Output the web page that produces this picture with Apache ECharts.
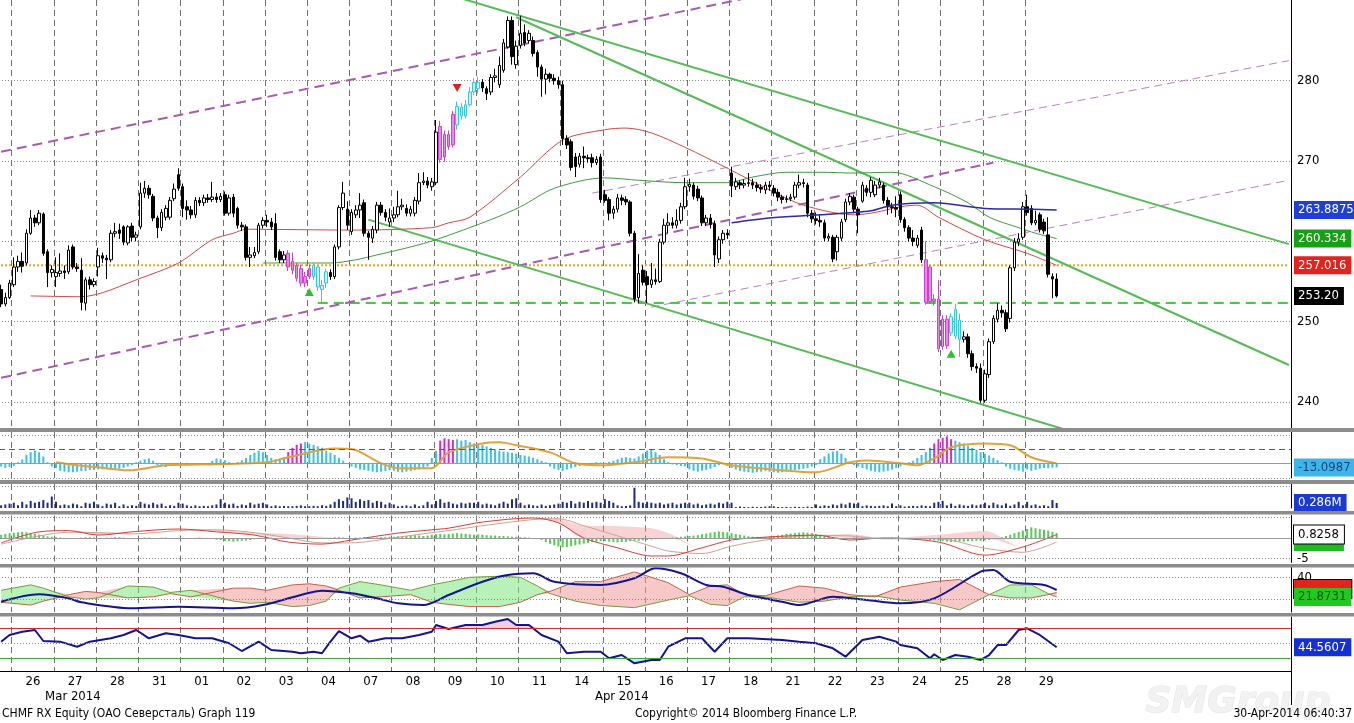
<!DOCTYPE html>
<html><head><meta charset="utf-8">
<script src="https://cdn.jsdelivr.net/npm/echarts@6/dist/echarts.min.js"></script>
<style>html,body{margin:0;padding:0;background:#fff;overflow:hidden}#c{width:1354px;height:723px}</style>
</head><body><div id="c"></div>
<script>
const FONT = "'DejaVu Sans Condensed','DejaVu Sans',sans-serif";

// ---- categories ----
const dayLabels = ['25','26','27','28','31','01','02','03','04','07','08','09','10','11','14','15','16','17','18','21','22','23','24','25','28','29'];
const N_CAT = 306;

// ---- candles [open, close, low, high] per trading day ----
const mar25 = [[254.0,252.2,251.8,254.6],[252.2,253.0,251.9,253.6],[253.0,254.8,252.8,255.2]];
const mar26 = [[254.6,256.8,254.3,258.0],[256.8,257.5,256.2,258.2],[257.5,256.9,256.1,258.6],[257.3,261.0,257.0,261.5],[261.0,262.9,260.8,263.9],[262.9,262.3,261.8,263.3],[262.3,263.5,262.0,263.9],[263.4,258.5,258.2,263.6],[258.7,256.1,254.3,259.0],[256.1,256.5,255.5,257.0]];
const mar27 = [[255.6,256.1,254.3,258.0],[256.0,256.3,255.6,258.5],[256.3,256.1,255.3,257.0],[256.2,258.9,255.9,259.5],[259.3,256.8,256.5,259.6],[256.8,256.6,256.2,257.3],[256.4,252.4,251.4,257.9],[252.3,255.2,251.4,255.5],[255.2,254.6,254.0,255.6],[254.6,255.0,254.3,255.4]];
const mar28 = [[256.8,258.2,255.6,259.2],[258.2,257.9,257.3,258.6],[257.9,257.7,255.3,258.3],[257.7,261.0,257.4,261.4],[261.0,261.2,260.5,262.3],[261.4,261.0,260.3,262.2],[261.8,259.9,259.5,262.0],[259.8,261.8,259.5,262.0],[261.9,260.5,260.0,262.3],[260.5,260.8,260.0,261.2]];
const mar31 = [[261.8,266.0,261.5,267.3],[266.0,266.6,265.4,267.5],[266.6,265.8,265.3,267.0],[265.6,262.9,262.5,265.9],[262.9,261.7,260.4,263.2],[261.7,263.6,261.3,264.0],[263.0,264.1,262.6,264.5],[263.0,265.1,262.7,265.5],[265.3,266.5,265.0,267.2],[268.3,266.6,266.3,269.1]];
const apr01 = [[266.8,264.1,263.0,267.2],[264.3,263.9,262.7,265.1],[263.9,263.3,262.8,264.4],[263.3,265.1,262.9,265.5],[265.1,264.8,264.4,265.5],[264.8,265.4,264.4,265.8],[265.4,265.2,264.8,265.9],[265.2,265.5,264.9,267.4],[265.5,265.2,264.8,266.0],[265.2,265.6,264.9,266.0]];
const apr02 = [[265.8,263.5,263.2,266.2],[263.5,265.4,263.2,265.8],[265.5,263.5,263.0,265.9],[264.1,262.0,261.6,264.3],[262.0,261.8,261.3,262.4],[261.8,258.0,257.6,262.1],[258.0,258.3,256.8,259.3],[258.2,258.6,257.9,259.3],[258.7,262.0,258.4,262.3],[262.0,262.6,261.6,263.0]];
const apr03 = [[262.6,262.4,261.8,263.3],[262.4,261.8,261.4,262.9],[262.2,258.0,257.6,263.5],[258.7,257.7,257.3,259.0],[257.7,258.3,257.3,258.8],[258.5,256.8,256.3,258.9],[257.5,256.4,255.9,258.6],[257.0,255.4,255.0,257.3],[256.6,254.8,254.4,257.1],[254.8,255.6,254.3,256.2]];
const apr04 = [[255.6,256.6,255.3,257.1],[257.0,255.6,255.2,257.3],[256.8,254.3,253.8,257.0],[254.5,254.0,252.4,255.2],[254.8,256.2,254.2,256.6],[256.1,255.6,255.2,256.5],[255.6,259.3,255.3,259.6],[259.3,264.2,259.0,264.5],[264.2,266.0,263.9,267.4],[264.0,262.0,261.4,265.0]];
const apr07 = [[261.2,263.6,260.8,264.0],[263.3,263.9,262.9,264.5],[263.9,264.5,262.9,266.0],[264.8,261.0,260.6,265.2],[261.0,260.5,257.7,261.3],[260.4,261.5,259.8,261.9],[261.4,264.5,261.0,264.9],[264.5,263.6,263.2,264.9],[263.6,263.0,262.5,264.0],[262.4,262.9,261.8,264.1]];
const apr08 = [[262.9,263.3,262.4,264.3],[263.3,264.3,263.0,266.3],[264.3,264.5,263.9,265.3],[264.1,263.5,263.1,264.6],[263.5,264.0,263.1,264.4],[263.5,265.1,263.1,265.5],[265.0,267.3,264.6,268.5],[267.3,267.5,267.0,268.6],[267.5,267.0,266.6,268.0],[266.8,267.4,266.3,267.9]];
const apr09 = [[267.3,273.6,267.0,275.1],[274.3,270.2,269.8,275.0],[270.5,273.3,269.9,273.8],[273.3,271.8,271.4,273.8],[272.0,275.8,271.7,276.2],[274.5,276.8,273.9,277.4],[276.7,275.6,275.2,277.2],[275.6,277.0,275.3,277.6],[277.0,278.6,276.8,279.2],[278.6,279.8,278.2,280.3]];
const apr10 = [[279.8,279.0,278.4,280.5],[279.8,279.1,278.6,280.2],[279.0,278.4,277.6,279.3],[278.6,280.4,278.2,280.8],[280.4,280.6,279.8,281.5],[279.5,281.9,279.1,283.0],[281.3,284.7,281.0,285.2],[284.2,287.5,284.0,288.0],[287.5,283.0,282.0,288.0],[282.0,284.3,281.5,285.0]];
const apr11 = [[284.4,285.9,284.0,288.1],[286.0,284.7,284.3,287.0],[285.0,285.9,284.6,286.3],[285.0,283.4,283.0,285.5],[283.5,281.7,280.5,283.8],[281.7,280.2,278.0,282.0],[280.2,280.8,278.3,281.5],[280.8,280.3,279.8,281.0],[280.3,280.0,279.5,280.8],[280.0,279.5,279.0,280.5]];
const apr14 = [[279.5,272.8,272.0,280.0],[272.8,272.0,271.5,273.2],[272.4,269.2,268.8,272.7],[270.5,269.3,268.0,271.0],[269.6,270.6,269.2,271.0],[270.6,270.4,269.1,271.8],[270.4,270.3,269.8,270.8],[270.4,269.8,269.2,270.9],[269.8,270.2,269.5,270.6],[270.5,265.2,264.8,270.9]];
const apr15 = [[265.8,265.1,264.8,266.4],[265.2,263.5,262.6,265.5],[263.5,264.0,262.8,264.4],[264.0,265.4,263.6,265.9],[265.4,265.1,264.5,265.8],[265.2,264.9,264.5,265.6],[264.9,261.0,260.6,265.1],[261.0,252.8,252.4,261.3],[253.0,256.0,252.3,258.4],[256.4,254.9,254.5,257.0]];
const apr16 = [[255.6,254.6,252.3,256.3],[254.6,255.2,254.2,257.3],[255.2,255.0,254.6,256.6],[255.0,259.9,254.8,260.3],[259.9,262.0,259.6,262.8],[262.0,262.3,261.0,263.5],[262.3,262.0,261.6,263.0],[262.0,262.6,261.6,264.0],[262.6,264.3,262.2,264.8],[264.3,266.8,264.0,267.9]];
const apr17 = [[266.8,267.1,266.2,267.8],[267.0,265.6,265.2,267.3],[266.5,265.4,265.0,266.9],[265.4,262.3,261.9,265.7],[262.3,262.9,261.9,263.3],[262.9,262.1,261.6,263.4],[262.2,258.3,256.8,262.6],[257.8,260.2,257.3,260.6],[260.2,261.0,259.7,261.4],[261.0,260.8,260.3,261.5]];
const apr18 = [[268.5,266.9,265.5,269.3],[266.8,267.4,266.4,267.9],[267.3,267.0,266.5,267.6],[267.0,267.2,266.6,267.7],[267.2,267.3,266.8,268.5],[267.3,267.0,266.5,267.8],[267.0,266.7,266.2,267.4],[266.7,266.5,266.0,267.1],[266.4,267.0,265.9,267.4],[267.0,266.8,266.3,267.5]];
const apr21 = [[266.6,266.0,265.6,267.0],[266.1,265.5,265.0,266.5],[265.5,265.2,264.7,265.8],[265.2,265.3,264.8,265.7],[265.3,265.5,265.0,265.9],[265.5,267.0,265.2,267.4],[267.0,267.3,266.6,268.3],[267.3,267.2,266.7,267.8],[267.0,263.5,263.0,267.3],[263.5,262.8,262.3,263.9]];
const apr22 = [[262.8,262.6,262.1,263.6],[262.6,262.4,261.8,263.3],[262.3,260.4,260.0,262.7],[260.4,260.6,260.0,261.0],[260.5,257.8,257.4,260.8],[258.7,260.5,257.6,260.8],[260.4,262.4,260.0,262.8],[262.7,264.9,262.4,265.3],[264.9,265.6,264.5,266.0],[265.5,264.0,263.5,265.8]];
const apr23 = [[264.0,263.3,261.0,264.3],[265.0,267.0,264.8,267.4],[266.6,266.1,265.6,267.0],[266.1,267.6,265.5,268.0],[265.8,267.0,265.5,267.5],[267.0,267.4,266.6,267.9],[267.0,265.1,264.7,267.3],[265.1,264.3,263.3,265.5],[264.3,264.2,263.5,264.8],[264.2,264.0,263.0,265.6]];
const apr24 = [[265.8,262.7,262.3,266.2],[262.7,261.7,261.2,263.0],[261.7,260.4,260.0,262.0],[260.4,260.0,259.4,261.4],[259.5,260.4,259.2,260.8],[261.4,257.7,257.3,261.8],[257.7,252.4,252.1,260.0],[256.8,252.5,252.2,257.0],[252.5,252.8,252.0,253.4],[252.8,246.6,246.2,255.2]];
const apr25 = [[246.9,250.3,246.5,250.8],[250.3,247.0,246.6,250.8],[250.6,248.6,248.2,251.0],[248.2,251.5,247.8,252.2],[250.2,247.8,245.6,251.0],[247.8,248.1,247.4,248.8],[248.1,246.0,245.5,248.5],[246.0,244.4,243.9,246.4],[244.4,244.2,243.6,244.8],[244.2,240.2,239.9,244.8]];
const apr28 = [[240.2,243.5,239.9,244.0],[243.4,247.5,243.0,247.9],[247.5,250.4,247.2,250.8],[250.3,251.4,249.9,252.3],[251.4,251.1,250.5,252.0],[251.1,249.1,248.7,251.5],[250.4,256.7,249.9,257.0],[256.7,259.9,256.3,260.4],[259.9,260.3,259.4,261.0],[260.5,264.3,260.2,264.9]];
const apr29 = [[264.3,263.6,263.2,265.8],[264.1,262.3,262.0,264.5],[262.3,262.6,262.0,263.8],[263.3,261.5,261.1,263.6],[262.4,261.3,260.9,262.8],[260.8,255.9,255.5,263.0],[255.6,255.3,252.9,256.0],[255.3,253.2,253.0,256.0]];
const tradingDays = [mar25,mar26,mar27,mar28,mar31,apr01,apr02,apr03,apr04,apr07,apr08,apr09,apr10,apr11,apr14,apr15,apr16,apr17,apr18,apr21,apr22,apr23,apr24,apr25,apr28,apr29];

// highlighted (setup) bars, index ranges
const magentaRanges = [[68,73],[104,107],[219,224]];
const cyanRanges = [[74,77],[108,113],[225,227]];
const buyMarks = [[73,253.7],[225,246.0]];
const sellMarks = [[108,279.1]];

// moving averages [barIndex, price]
const maRed = [[7,253.2],[19,253.1],[24,253.6],[32,255.2],[42,257.3],[50,260.2],[55,261.0],[58,261.5],[83,261.4],[102,261.7],[106,262.3],[111,263.0],[123,268.0],[133,272.6],[143,273.9],[148,274.1],[154,273.5],[162,271.7],[172,269.1],[182,266.4],[190,264.5],[202,263.3],[207,263.6],[213,264.3],[217,264.5],[222,263.0],[233,260.2],[243,258.5],[250,257.0]];
const maGreen = [[62,257.3],[78,257.3],[84,257.7],[89,258.3],[97,259.3],[103,260.2],[116,262.7],[123,264.3],[131,266.6],[143,267.9],[151,267.6],[162,267.3],[172,267.3],[178,268.0],[186,268.6],[194,268.6],[202,268.5],[211,268.6],[221,266.8],[229,264.8],[234,263.0],[241,261.7],[245,261.0],[250,260.334]];
const maBlue = [[173,262.3],[182,262.9],[194,263.3],[206,263.8],[211,264.5],[221,264.8],[233,264.1],[244,264.0],[250,263.8875]];

// trend lines [barIndex, price] end points
const chanUpperThick = [[0,271.15],[185,291.2]];
const chanLowerThick = [[0,243.0],[235,269.8]];
const chanUpperThin = [[140,266.0],[305,282.5]];
const chanLowerThin = [[154,251.8],[305,267.6]];
const trendG1 = [[108,290.4],[305,259.65]];
const trendG2 = [[122,287.9],[305,244.6]];
const trendG3 = [[87,262.7],[253,236.4]];
const supportLine = [[75,252.32],[305,252.32]];
const levelLine = [[0,257.016],[305,257.016]];

const priceTicks = [240,250,270,280];
const priceGrid = [240,250,260,270,280];
const lastTags = [263.8875,260.334,257.016,253.20];

// oscillator panel
const osc = [-10,-15,-12,-8,5,15,30,40,45,40,25,5,-10,-15,-25,-28,-30,-30,-28,-26,-25,-22,-22,-20,-20,-18,-20,-22,-18,-15,-10,-5,5,10,15,18,10,-5,-8,-12,-6,-4,-2,2,3,-3,-5,-3,0,2,10,18,15,12,5,-3,5,12,20,30,38,45,40,30,20,15,18,22,40,55,65,70,75,70,65,60,55,45,38,30,20,10,0,-10,-15,-20,-22,-25,-28,-30,-28,-25,-22,-25,-28,-30,-28,-25,-22,-20,-15,-10,20,45,80,88,85,82,85,80,82,75,70,68,65,60,55,50,45,42,40,38,35,30,28,25,20,15,10,5,-10,-18,-22,-25,-20,-16,-12,-8,-4,0,3,5,4,3,6,10,15,20,22,20,18,25,35,46,50,40,30,15,5,-3,-5,-8,-10,-20,-25,-28,-25,-22,-18,-12,-5,0,-8,-15,-20,-25,-28,-30,-32,-30,-28,-25,-28,-30,-32,-30,-28,-25,-22,-20,-18,-15,-10,-5,15,25,35,42,45,35,20,5,-5,-10,-15,-20,-25,-28,-30,-28,-25,-20,-15,-10,-5,5,10,20,30,40,55,70,85,90,95,85,80,75,70,62,55,48,40,35,28,20,12,5,-10,-18,-22,-25,-28,-20,-25,-22,-18,-15,-16,-14,-13.0987];
const oscMagenta = [[68,71],[104,107],[221,225]];
const oscSignal = [[13,4.5],[18,-6],[23,-13],[30,-23],[39,-6],[51,-2],[63,4.5],[68,22],[79,53],[83,51],[90,1],[94,-16],[102,-16],[106,39],[114,70],[118,74],[122,64],[130,39],[136,1],[142,-6],[150,4.5],[158,22],[166,18],[173,-6],[185,-23],[193,-30],[201,4.5],[205,11],[213,1],[217,-6],[221,18],[225,57],[233,70],[239,64],[244,22],[250,1]];

// volume (millions)
const volume = [0.15,0.2,0.25,
0.3,0.15,0.35,0.2,0.4,0.3,0.35,0.45,0.3,0.65,
0.35,0.15,0.2,0.15,0.25,0.2,0.1,0.3,0.25,0.35,
0.2,0.1,0.25,0.2,0.3,0.1,0.2,0.1,0.15,0.12,
0.35,0.25,0.2,0.3,0.2,0.25,0.1,0.15,0.12,0.3,
0.25,0.15,0.1,0.15,0.1,0.12,0.1,0.15,0.2,0.5,
0.3,0.2,0.25,0.12,0.2,0.15,0.3,0.2,0.25,0.3,
0.2,0.1,0.15,0.1,0.12,0.1,0.1,0.12,0.15,0.1,
0.1,0.12,0.1,0.15,0.12,0.2,0.35,0.5,0.4,0.6,
0.55,0.35,0.5,0.4,0.45,0.3,0.4,0.35,0.2,0.3,
0.2,0.1,0.12,0.15,0.1,0.2,0.1,0.15,0.35,0.2,
0.4,0.5,0.3,0.35,0.25,0.2,0.3,0.25,0.3,0.3,
0.35,0.2,0.25,0.2,0.15,0.25,0.35,0.25,0.5,0.55,
0.3,0.15,0.2,0.15,0.12,0.2,0.12,0.15,0.2,0.25,
0.35,0.3,0.4,0.25,0.35,0.3,0.4,0.3,0.35,0.3,
0.5,0.4,0.3,0.15,0.1,0.12,0.15,1.15,0.35,0.3,
0.35,0.3,0.25,0.3,0.2,0.25,0.3,0.2,0.25,0.3,
0.3,0.2,0.25,0.15,0.2,0.25,0.2,0.3,0.25,0.35,
0.3,0.05,0.08,0.06,0.05,0.07,0.05,0.06,0.08,0.1,
0.1,0.06,0.05,0.06,0.05,0.07,0.06,0.05,0.08,0.06,
0.2,0.1,0.15,0.12,0.2,0.15,0.25,0.2,0.3,0.25,
0.3,0.1,0.15,0.12,0.1,0.12,0.15,0.1,0.25,0.1,
0.15,0.08,0.1,0.12,0.1,0.15,0.12,0.1,0.3,0.35,
0.4,0.15,0.25,0.12,0.2,0.15,0.12,0.2,0.15,0.2,
0.3,0.15,0.3,0.2,0.15,0.25,0.12,0.2,0.35,0.15,
0.35,0.15,0.2,0.12,0.15,0.1,0.45,0.286];

// MACD-style panel
const macdHist = [0.8,1.0,1.2,1.3,1.4,1.5,1.4,1.2,1.0,0.8,0.6,0.4,0.3,
0.2,0.1,0,-0.1,-0.1,0,0.1,0.2,0.2,0.1,0,0,0.1,0.1,0.2,0.2,0.1,0,-0.1,-0.1,0,0.1,0.1,0,0,0.1,0.1,0,
0,0,-0.1,-0.1,0,0,0.1,0,-0.1,-0.2,
-0.4,-0.5,-0.7,-0.8,-0.9,-0.8,-0.7,-0.6,-0.5,-0.3,
-0.2,-0.1,0,0.1,0,-0.1,-0.2,-0.2,-0.1,0,0,0.1,0.1,0,0,-0.1,0,0.1,0.2,0.2,0.1,0,0,0.1,0.1,0.2,0.2,0.1,0.1,0.2,0.2,0.3,0.3,0.4,0.4,
0.5,0.6,0.7,0.6,0.5,0.6,0.8,0.9,1.0,0.9,
1.0,1.1,1.2,1.1,1.0,0.9,0.8,0.9,0.8,0.7,0.6,0.6,0.5,0.5,0.4,
0.3,0.3,0.2,0.2,0.1,0,-0.2,-0.5,
-1.0,-1.4,-1.8,-2.1,-2.3,-2.2,-2.0,-1.8,-1.6,-1.4,-1.2,-1.0,
-0.9,-0.8,-0.8,-0.9,-1.0,-1.1,-1.0,-0.9,-0.8,-0.7,-0.7,-0.6,-0.5,-0.4,-0.3,
-0.2,-0.1,0,0.1,0.2,0.3,0.4,0.5,0.6,0.7,
0.9,1.1,1.3,1.5,1.6,1.5,1.4,1.2,1.0,0.8,0.6,
0.4,0.3,0.3,0.2,0.3,0.4,0.5,0.6,0.8,
1.0,1.1,1.2,1.3,1.4,1.3,1.2,1.0,0.8,0.6,0.4,
0.2,0.1,0,-0.1,0,0.1,0.1,0.2,0.1,0,0,-0.1,-0.1,0,0.1,0.1,0,-0.1,-0.2,-0.2,-0.3,-0.3,-0.4,-0.5,
-0.6,-0.7,-0.8,-0.9,-1.0,-1.0,-0.9,-0.9,-0.8,-0.8,-0.7,-0.7,-0.6,-0.5,-0.3,-0.1,
0.2,0.5,0.8,1.2,1.5,1.8,2.2,2.6,2.4,2.2,2.0,1.8,1.5,1.2];
const macdIdx = [0,9,16,23,31,42,51,60,68,76,83,94,102,106,114,126,132,138,146,154,158,166,173,181,193,201,209,222,233,242,250];
const macdLine = [-1.2,1.5,1.8,0.7,1.5,2.2,1.5,0.7,-1.0,-1.5,-0.5,1.2,2.0,2.4,3.9,4.9,3.7,0,-2.4,-4.4,-4.4,-2.4,-0.5,0.2,0.7,-0.5,0,-1.0,-4.2,-2.2,0.8258];
const macdLag = [-1.5,0.5,1.4,1.3,1.0,1.8,2.0,1.3,0.0,-1.2,-1.2,0.2,1.3,1.8,3.0,4.5,4.7,3.0,0.5,-2.0,-3.2,-3.8,-2.0,-0.5,0.6,0.5,-0.2,-0.2,-2.5,-3.5,-1.0];

// DMI panel
const diIdx = [0,7,10,16,20,23,30,36,40,45,55,59,63,69,73,77,80,85,90,97,102,106,111,118,123,127,130,136,142,150,158,163,168,172,176,181,189,195,201,207,213,221,227,234,239,244,248,250];
const diPlus = [28,33,30,22,20,21,32,31,26,28,18,16,17,13,14,18,30,36,33,28,33,36,40,41,40,32,25,18,14,12,19,23,15,14,22,22,17,18,22,23,19,16,10,24,33,33,25,21.8731];
const diMinus = [17,14.4,18,24,27,26,21,22,25,22,30,30,28,33,34,32,28,21,22,24,17,15,13,13,17,24,27,36,36,45,35,24,32,33,24,23,32,30,24,22,31,36,38,24,21,21,24,26];
const adx = [[0,17.5],[9,24.3],[16,20.6],[19,16.9],[31,11.4],[42,12.9],[55,11.4],[62,14.4],[71,23.7],[76,27.6],[83,25.2],[89,20.6],[94,16.0],[100,14.4],[106,23.7],[114,35.9],[120,42.1],[126,43.7],[131,35.9],[142,32.9],[150,39.1],[155,48.3],[161,43.7],[167,32.9],[171,31.3],[177,23.7],[185,17.5],[189,14.4],[197,22.1],[205,19.1],[213,16.0],[221,20.6],[232,45.2],[235,46.7],[239,35.9],[247,32.9],[250,28.3]];

// RSI panel
const rsi = [[0,52.2],[2,61.4],[5,65.9],[8,68.2],[10,53.1],[14,52.2],[18,45.3],[21,52.2],[26,56.8],[29,61.4],[32,68.2],[35,56.8],[39,63.7],[42,61.4],[46,56.8],[50,56.8],[54,50.0],[57,39.4],[61,52.2],[64,40.8],[69,38.4],[71,36.3],[74,38.4],[76,36.3],[78,52.2],[80,66.8],[83,56.8],[85,60.4],[87,52.2],[91,56.8],[95,56.8],[99,61.4],[102,65.9],[103,75.1],[106,69.6],[110,75.1],[114,75.1],[117,79.6],[120,83.3],[122,75.1],[125,75.1],[128,61.4],[132,52.2],[134,36.3],[138,38.4],[142,38.4],[144,29.4],[147,33.9],[150,22.5],[154,27.1],[156,27.1],[158,45.3],[162,56.8],[166,56.8],[169,38.4],[172,56.8],[177,56.8],[185,54.5],[189,52.2],[193,50.0],[197,43.1],[200,31.6],[204,54.5],[208,59.0],[212,52.2],[213,47.6],[217,43.1],[220,29.4],[221,34.9],[223,27.1],[226,33.9],[229,31.6],[232,27.1],[234,33.9],[236,47.6],[238,47.6],[241,68.2],[243,70.5],[246,61.4],[250,44.5607]];

// ---------------- build ----------------
const candles = [].concat(...tradingDays);
const cats = [];
for (let i = 0; i < N_CAT; i++) {
  const d = i < 3 ? 0 : 1 + Math.floor((i - 3) / 10);
  cats.push((dayLabels[d] && i < 253 ? dayLabels[d] : '') + '|' + i);
}
const inRanges = (i, rs) => rs.some(r => i >= r[0] && i <= r[1]);
const candleItems = candles.map((c, i) => {
  const it = { value: c };
  if (inRanges(i, magentaRanges)) it.itemStyle = { color: '#e68ae6', color0: '#a01ea0', borderColor: '#d040d0', borderColor0: '#d040d0' };
  else if (inRanges(i, cyanRanges)) it.itemStyle = { color: '#c4f6fb', color0: '#1d6f80', borderColor: '#35c8dc', borderColor0: '#35c8dc' };
  return it;
});

const grids = [
  { top: 0, height: 428 },
  { top: 432, height: 46 },
  { top: 484, height: 24 },
  { top: 515.5, height: 47 },
  { top: 567, height: 45 },
  { top: 617, height: 54 }
];
const yRanges = [[236.75, 290.05], [-50, 110], [0, 1.36], [-6, 5.5], [8, 49.5], [12, 86]];
const isBoundary = i => i >= 3 && i <= 243 && (i - 3) % 10 === 0;

const xAxes = grids.map((g, k) => ({
  type: 'category', gridIndex: k, data: cats, boundaryGap: true, position: 'bottom',
  axisLine: { show: k === 5, onZero: false, lineStyle: { color: '#000', width: 1 } },
  axisTick: { show: false },
  axisLabel: k === 5 ? {
    show: true, interval: (i) => i >= 3 && i < 253 && (i - 3) % 10 === 5,
    formatter: v => v.split('|')[0], margin: 4, fontSize: 13, color: '#000', fontFamily: FONT, padding: [0, 4, 0, 0]
  } : { show: false },
  splitLine: { show: true, interval: (i) => isBoundary(i), lineStyle: { color: '#707070', type: [6, 4], width: 1 } }
}));
xAxes.push({
  type: 'category', gridIndex: 5, data: cats, boundaryGap: true, position: 'bottom', offset: 0,
  axisLine: { show: false, onZero: false },
  axisTick: { show: true, interval: (i) => i === 43, length: 34, lineStyle: { color: '#000', width: 1 } },
  axisLabel: { show: true, interval: (i) => i === 17 || i === 147, formatter: (v, i) => (i === 17 ? 'Mar 2014' : 'Apr 2014'), margin: 19, fontSize: 13, color: '#000', fontFamily: FONT },
  splitLine: { show: false }
});
const yAxes = yRanges.map((r, k) => ({
  type: 'value', gridIndex: k, position: 'right', min: r[0], max: r[1], scale: true,
  axisLine: { show: true, onZero: false, lineStyle: { color: '#000', width: 1 } },
  axisTick: { show: false }, axisLabel: { show: false }, splitLine: { show: false }
}));

function gl(v, color, type, width, text) {
  return { yAxis: v, lineStyle: { color, type, width }, label: text ? { show: true, position: 'end', formatter: text, color: '#000', fontSize: 13, fontFamily: FONT, distance: 6 } : { show: false } };
}
function tag(v, text, bg, fg, border) {
  return { yAxis: v, lineStyle: { color: 'rgba(255,255,255,0)', width: 1, opacity: 1 }, label: { show: true, position: 'end', formatter: text, backgroundColor: bg, color: fg, padding: [3, 5, 2, 4], fontSize: 13, fontFamily: FONT, borderColor: border || bg, borderWidth: border ? 1 : 0, distance: 3, opacity: 1 } };
}
const ML = (data, z) => ({ symbol: 'none', silent: true, animation: false, precision: 4, data, z: z || 5 });
function ln(k, data, color, width, type, z, extra) {
  return Object.assign({ type: 'line', xAxisIndex: k, yAxisIndex: k, data, showSymbol: false, symbol: 'none', silent: true, z: z || 3, clip: true, lineStyle: { color, width, type: type || 'solid' } }, extra || {});
}

const series = [];
// main panel
series.push(ln(0, levelLine, '#e3a324', 2, [2, 2], 1, {
  markLine: ML(priceGrid.map(v => gl(v, '#8a8a8a', [1, 2], 1, priceTicks.includes(v) ? String(v) : '')), 1)
}));
series.push(ln(0, supportLine, '#3fcf3f', 2, [10, 6], 2));
series.push(ln(0, chanUpperThick, '#a85aae', 2, [10, 6], 2));
series.push(ln(0, chanLowerThick, '#a85aae', 2, [10, 6], 2));
series.push(ln(0, chanUpperThin, '#b883bd', 1, [8, 5], 2));
series.push(ln(0, chanLowerThin, '#b883bd', 1, [8, 5], 2));
series.push(ln(0, trendG1, '#55bb55', 2, 'solid', 2));
series.push(ln(0, trendG2, '#55bb55', 2, 'solid', 2));
series.push(ln(0, trendG3, '#55bb55', 2, 'solid', 2));
series.push(ln(0, maRed, '#d04848', 1, 'solid', 4, { smooth: 0.3 }));
series.push(ln(0, maGreen, '#3f9a3f', 1, 'solid', 4, { smooth: 0.3 }));
series.push({
  type: 'candlestick', xAxisIndex: 0, yAxisIndex: 0, data: candleItems, barWidth: 3, z: 5, silent: true,
  itemStyle: { color: '#ffffff', color0: '#000000', borderColor: '#000000', borderColor0: '#000000', borderWidth: 1 },
  markPoint: {
    symbol: 'triangle', symbolSize: [9, 8], label: { show: false }, silent: true, animation: false,
    data: buyMarks.map(p => ({ coord: p, itemStyle: { color: '#2fbf2f' } }))
      .concat(sellMarks.map(p => ({ coord: p, symbolRotate: 180, itemStyle: { color: '#e0201c' } })))
  }
});
series.push(ln(0, maBlue, '#2a2aa6', 1.5, 'solid', 20, {
  smooth: 0.3,
  markLine: ML([
    tag(lastTags[0], '263.8875', '#1f3fd6', '#ffffff'),
    tag(lastTags[1], '260.334', '#16a016', '#ffffff'),
    tag(lastTags[2], '257.016', '#e3231f', '#ffffff'),
    tag(lastTags[3], '253.20', '#000000', '#ffffff')
  ], 30)
}));

// oscillator panel
series.push({
  type: 'bar', xAxisIndex: 1, yAxisIndex: 1, barWidth: 2, silent: true, z: 3,
  data: osc.map((v, i) => ({ value: v, itemStyle: { color: inRanges(i, oscMagenta) ? '#d02ccc' : '#3cc0e4' } })),
  markLine: ML([
    gl(100, '#8a8a8a', [1, 2], 1, ''), gl(-50, '#8a8a8a', [1, 2], 1, ''),
    gl(50, '#c83030', [6, 4], 1, ''), gl(0, '#9a9a9a', 'solid', 1, ''),
    tag(osc[osc.length - 1], '-13.0987', '#3cb6e8', '#23407e')
  ], 5)
});
series.push(ln(1, oscSignal, '#e2a23c', 2, 'solid', 4, { smooth: 0.3 }));

// volume
series.push({
  type: 'bar', xAxisIndex: 2, yAxisIndex: 2, barWidth: 2, silent: true, data: volume, itemStyle: { color: '#1e2a7c' },
  markLine: ML([gl(1.25, '#8a8a8a', [1, 2], 1, ''), tag(0.286, '0.286M', '#1c3ad2', '#ffffff')], 5)
});

// MACD panel
const macdRedPts = macdIdx.map((x, j) => [x, macdLine[j]]);
const macdLagPts = macdIdx.map((x, j) => [x, macdLag[j]]);
series.push(ln(3, macdRedPts, 'rgba(0,0,0,0)', 0, 'solid', 2, { stack: 'macdband', smooth: 0.3 }));
series.push(ln(3, macdIdx.map((x, j) => [x, Math.max(macdLag[j] - macdLine[j], 0)]), 'rgba(0,0,0,0)', 0, 'solid', 2, { stack: 'macdband', smooth: 0.3, areaStyle: { color: 'rgba(240,140,140,0.55)' } }));
series.push({
  type: 'bar', xAxisIndex: 3, yAxisIndex: 3, barWidth: 2, silent: true, data: macdHist, itemStyle: { color: '#55cc55' }, z: 3,
  markLine: ML([gl(5, '#8a8a8a', [1, 2], 1, ''), gl(-5, '#8a8a8a', [1, 2], 1, '-5'), gl(0, '#9a9a9a', 'solid', 1, ''),
    tag(-1.0, '0.8258', '#22b822', '#22b822'), tag(macdLine[macdLine.length - 1], '0.8258', '#ffffff', '#000000', '#000000')], 5)
});
series.push(ln(3, macdLagPts, '#d4a090', 1, 'solid', 4, { smooth: 0.3 }));
series.push(ln(3, macdRedPts, '#d83c3c', 1, 'solid', 4, { smooth: 0.3 }));

// DMI panel
series.push(ln(4, diIdx.map((x, j) => [x, Math.min(diPlus[j], diMinus[j])]), 'rgba(0,0,0,0)', 0, 'solid', 2, { stack: 'di' }));
series.push(ln(4, diIdx.map((x, j) => [x, Math.max(diPlus[j] - diMinus[j], 0)]), 'rgba(0,0,0,0)', 0, 'solid', 2, { stack: 'di', areaStyle: { color: 'rgba(120,230,120,0.75)' } }));
series.push(ln(4, diIdx.map((x, j) => [x, Math.max(diMinus[j] - diPlus[j], 0)]), 'rgba(0,0,0,0)', 0, 'solid', 2, { stack: 'di', areaStyle: { color: 'rgba(240,150,150,0.75)' } }));
series.push(ln(4, diIdx.map((x, j) => [x, diPlus[j]]), '#7a9a40', 1, 'solid', 4));
series.push(ln(4, diIdx.map((x, j) => [x, diMinus[j]]), '#c8604a', 1, 'solid', 4));
series.push(ln(4, adx, '#14148e', 2, 'solid', 5, {
  smooth: 0.3,
  markLine: ML([gl(40, '#8a8a8a', [1, 2], 1, '40'), gl(20, '#8a8a8a', [1, 2], 1, ''),
    tag(29.3, '31.2044', '#e3231f', '#e3231f', '#000000'), tag(diPlus[diPlus.length - 1], '21.8731', '#22c822', '#0a5a0a')], 6)
}));

// RSI panel: shading above 70 and below 30 via stacked bands
series.push(ln(5, rsi.map(p => [p[0], 70]), 'rgba(0,0,0,0)', 0, 'solid', 2, { stack: 'rsiHi' }));
series.push(ln(5, rsi.map(p => [p[0], Math.max(p[1] - 70, 0)]), 'rgba(0,0,0,0)', 0, 'solid', 2, { stack: 'rsiHi', areaStyle: { color: 'rgba(240,150,190,0.7)' } }));
series.push(ln(5, rsi.map(p => [p[0], Math.min(p[1], 30)]), 'rgba(0,0,0,0)', 0, 'solid', 2, { stack: 'rsiLo' }));
series.push(ln(5, rsi.map(p => [p[0], 30 - Math.min(p[1], 30)]), 'rgba(0,0,0,0)', 0, 'solid', 2, { stack: 'rsiLo', areaStyle: { color: 'rgba(120,210,240,0.7)' } }));
series.push(ln(5, rsi, '#14148e', 2, 'solid', 5, {
  markLine: ML([gl(70, '#c83030', 'solid', 1, ''), gl(30, '#3caa3c', 'solid', 1, ''), gl(50, '#8a8a8a', [1, 2], 1, ''),
    tag(44.5607, '44.5607', '#1530d2', '#ffffff')], 6)
}));

const separators = [[428, 4], [480, 4], [511, 3.5], [564, 3.5], [613, 3.5]];
const graphic = separators.map(s => ({ type: 'rect', shape: { x: 0, y: s[0], width: 1354, height: s[1] }, style: { fill: '#8c8c8c' }, z: 100, silent: true }));
graphic.push({ type: 'text', x: 1238, y: 703, z: -10, silent: true, style: { text: 'SMGroup', font: "italic bold 36px 'DejaVu Sans', sans-serif", fill: '#f2f2f2', stroke: '#e2e2e2', lineWidth: 1, textAlign: 'center', textVerticalAlign: 'middle', align: 'center', verticalAlign: 'middle' } });
graphic.push({ type: 'text', x: 2, y: 714, z: 100, silent: true, style: { text: 'CHMF RX Equity (ОАО Северсталь) Graph 119', font: "12px " + FONT, fill: '#000', textAlign: 'left', textVerticalAlign: 'middle', align: 'left', verticalAlign: 'middle' } });
graphic.push({ type: 'text', x: 746, y: 714, z: 100, silent: true, style: { text: 'Copyright© 2014 Bloomberg Finance L.P.', font: "12px " + FONT, fill: '#000', textAlign: 'center', textVerticalAlign: 'middle', align: 'center', verticalAlign: 'middle' } });
graphic.push({ type: 'text', x: 1352, y: 714, z: 100, silent: true, style: { text: '30-Apr-2014 06:40:37', font: "12px " + FONT, fill: '#000', textAlign: 'right', textVerticalAlign: 'middle', align: 'right', verticalAlign: 'middle' } });

const chart = echarts.init(document.getElementById('c'), null, { renderer: 'canvas' });
chart.setOption({
  animation: false,
  backgroundColor: '#ffffff',
  textStyle: { fontFamily: FONT },
  grid: grids.map(g => ({ left: -1, right: 63, top: g.top, height: g.height, containLabel: false, outerBoundsMode: 'none' })),
  xAxis: xAxes,
  yAxis: yAxes,
  series,
  graphic
});
</script>
</body></html>
